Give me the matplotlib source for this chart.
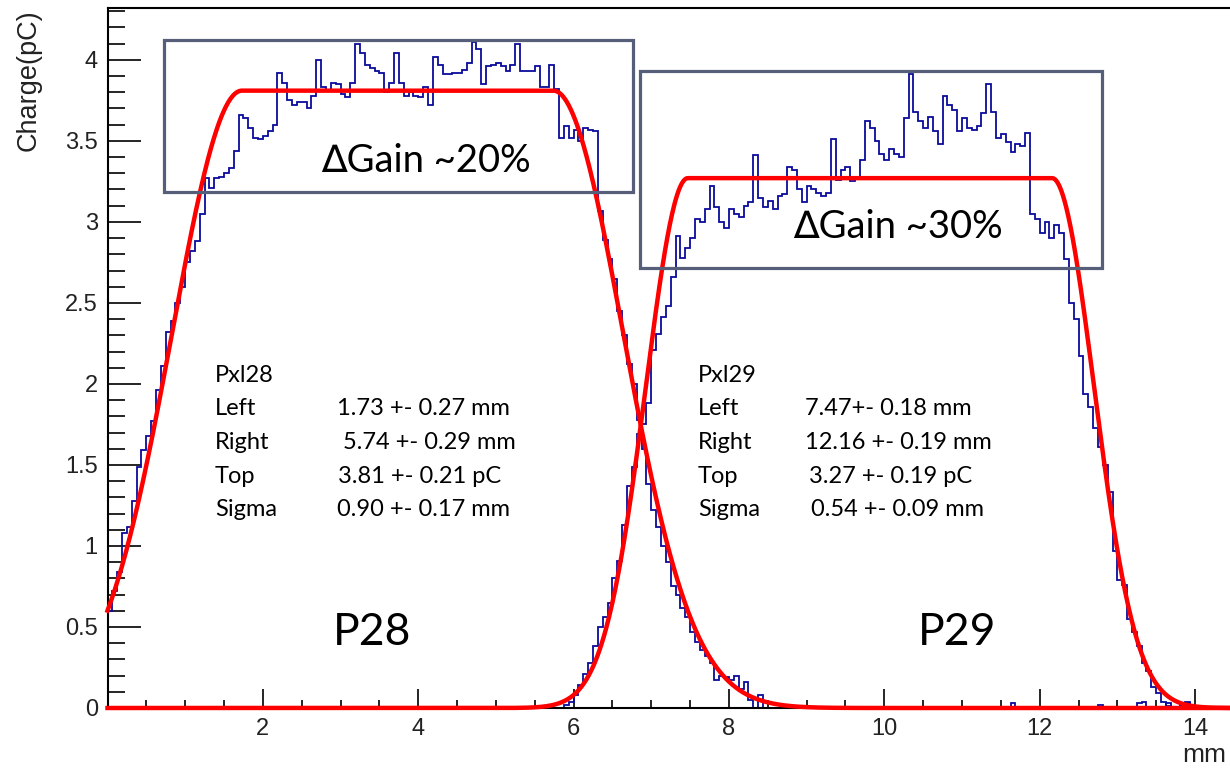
import numpy as np
import matplotlib
matplotlib.use("Agg")
import matplotlib.pyplot as plt
from matplotlib.patches import Rectangle
from matplotlib.ticker import MultipleLocator

# histogram binning (mm)
bin_w = 0.0625
n_bins = 232

# pixel 28 charge per bin, starting at bin 0
h28 = [0.60, 0.72, 0.84, 1.08, 1.12, 1.28, 1.49, 1.59, 1.68, 1.77,
       1.96, 2.11, 2.32, 2.39, 2.50, 2.60, 2.75, 2.82, 2.88, 3.05,
       3.27, 3.21, 3.27, 3.28, 3.30, 3.33, 3.44, 3.66, 3.64, 3.58,
       3.52, 3.51, 3.53, 3.56, 3.60, 3.92, 3.86, 3.75, 3.72, 3.74,
       3.74, 3.70, 3.78, 4.00, 3.83, 3.81, 3.86, 3.85, 3.79, 3.77,
       3.86, 4.10, 4.04, 3.97, 3.95, 3.93, 3.92, 3.80, 3.86, 4.04,
       3.86, 3.78, 3.80, 3.78, 3.77, 3.83, 3.72, 4.02, 3.97, 3.91,
       3.91, 3.92, 3.92, 3.94, 3.98, 4.11, 4.07, 3.85, 3.96, 3.97,
       3.98, 3.96, 3.93, 3.97, 4.10, 3.93, 3.93, 3.93, 3.96, 3.83,
       3.83, 3.97, 3.82, 3.52, 3.59, 3.52, 3.57, 3.50, 3.58, 3.57,
       3.56, 3.07, 2.89, 2.77, 2.65, 2.45, 2.30, 2.12, 2.00, 1.78,
       1.60, 1.38, 1.22, 1.12, 1.00, 0.90, 0.75, 0.70, 0.62, 0.56,
       0.47, 0.41, 0.36, 0.32, 0.28, 0.17, 0.20, 0.19, 0.17, 0.20,
       0.12, 0.16, 0.05, 0.00, 0.08, 0.00]
# isolated noise entries of pixel 28 further out
noise28_bins = [186, 204, 212, 213, 218, 221, 222]
noise28_vals = [0.03, 0.02, 0.03, 0.04, 0.03, 0.02, 0.04]

# pixel 29 charge per bin, starting at bin h29_start
h29_start = 93
h29 = [0.00, 0.02, 0.04, 0.08, 0.14, 0.21, 0.28, 0.38, 0.50, 0.56,
       0.65, 0.80, 0.91, 1.13, 1.37, 1.49, 1.69, 1.75, 1.88, 2.21,
       2.31, 2.41, 2.48, 2.66, 2.91, 2.78, 2.84, 2.90, 3.02, 3.00,
       3.08, 3.22, 3.09, 3.00, 2.96, 3.08, 3.05, 3.03, 3.10, 3.12,
       3.41, 3.15, 3.09, 3.13, 3.08, 3.16, 3.17, 3.34, 3.32, 3.20,
       3.12, 3.22, 3.20, 3.18, 3.16, 3.18, 3.51, 3.26, 3.32, 3.34,
       3.25, 3.28, 3.38, 3.62, 3.58, 3.50, 3.42, 3.38, 3.45, 3.42,
       3.40, 3.64, 3.91, 3.68, 3.62, 3.58, 3.65, 3.56, 3.48, 3.78,
       3.72, 3.69, 3.56, 3.64, 3.58, 3.57, 3.59, 3.67, 3.85, 3.68,
       3.52, 3.54, 3.49, 3.43, 3.48, 3.47, 3.55, 3.05, 3.02, 2.93,
       3.00, 2.90, 2.98, 2.93, 2.77, 2.50, 2.40, 2.17, 1.94, 1.86,
       1.73, 1.61, 1.50, 1.33, 0.97, 0.79, 0.76, 0.55, 0.47, 0.38,
       0.28, 0.23, 0.13, 0.09, 0.04, 0.01, 0.00, 0.00, 0.00, 0.03,
       0.00]

# fit results: left, right, top, sigma
fit28 = [1.73, 5.74, 3.81, 0.90]
fit29 = [7.47, 12.16, 3.27, 0.54]

stat_names = ["Left", "Right", "Top", "Sigma"]
stat28 = ["1.73 +- 0.27 mm", "5.74 +- 0.29 mm", "3.81 +- 0.21 pC", "0.90 +- 0.17 mm"]
stat29 = ["7.47+- 0.18 mm", "12.16 +- 0.19 mm", "3.27 +- 0.19 pC", "0.54 +- 0.09 mm"]


def plateau(x, left, right, top, sigma):
    # flat top with gaussian edges
    y = np.full_like(x, top)
    y = np.where(x < left, top * np.exp(-(x - left) ** 2 / (2 * sigma ** 2)), y)
    y = np.where(x > right, top * np.exp(-(x - right) ** 2 / (2 * sigma ** 2)), y)
    return y


edges = np.arange(n_bins + 1) * bin_w
c28 = np.zeros(n_bins)
c28[:len(h28)] = h28
c28[noise28_bins] = noise28_vals
c29 = np.zeros(n_bins)
c29[h29_start:h29_start + len(h29)] = h29

W, H = 1230, 768
fig = plt.figure(figsize=(W / 100, H / 100), dpi=100)
ax = fig.add_axes([107.5 / W, 1 - 708 / H, 1 - 107.5 / W, 700 / H])

blue = "#0b0b9c"
ax.stairs(c28, edges, color=blue, lw=1.3, baseline=0, zorder=2)
ax.stairs(c29, edges, color=blue, lw=1.3, baseline=0, zorder=2)

xs = np.linspace(0, 14.45, 1500)
ax.plot(xs, plateau(xs, *fit28), color="#ff0000", lw=3.2, zorder=3, clip_on=False)
ax.plot(xs, plateau(xs, *fit29), color="#ff0000", lw=3.2, zorder=3, clip_on=False)

ax.set_xlim(0, 14.45)
ax.set_ylim(0, 4.32)
ax.spines["right"].set_visible(False)
for s in ["left", "top", "bottom"]:
    ax.spines[s].set_linewidth(1.5)

ax.xaxis.set_major_locator(MultipleLocator(2))
ax.xaxis.set_minor_locator(MultipleLocator(0.5))
ax.yaxis.set_major_locator(MultipleLocator(0.5))
ax.yaxis.set_minor_locator(MultipleLocator(0.1))
ax.tick_params(axis="y", which="major", direction="in", length=24, width=1.2, pad=7)
ax.tick_params(axis="y", which="minor", direction="in", length=12.5, width=1.2)
ax.tick_params(axis="x", which="major", direction="in", length=14, width=1.2, pad=7)
ax.tick_params(axis="x", which="minor", direction="in", length=6, width=1.2)
ax.set_xticks([2, 4, 6, 8, 10, 12, 14])
ax.set_xticklabels(["2", "4", "6", "8", "10", "12", "14"])
ax.set_yticks([0, 0.5, 1, 1.5, 2, 2.5, 3, 3.5, 4])
ax.set_yticklabels(["0", "0.5", "1", "1.5", "2", "2.5", "3", "3.5", "4"])
for lab in ax.get_xticklabels() + ax.get_yticklabels():
    lab.set_fontfamily("Liberation Sans")
    lab.set_fontsize(17)
    lab.set_color("#222222")

fig.text(29 / W, 1 - 9 / H, "Charge(pC)", rotation=90, ha="center", va="top",
         family="Liberation Sans", fontsize=19.5, color="#222222")
fig.text(1226 / W, 1 - 762 / H, "mm", ha="right", va="baseline",
         family="Liberation Sans", fontsize=19, color="#222222")


def put(px, py, s, size, **kw):
    fig.text(px / W, 1 - py / H, s, fontsize=size, va="baseline",
             family=["Lato", "DejaVu Sans"], color="black", **kw)


# gain boxes
box_col = "#575e7a"
fig.add_artist(Rectangle((164 / W, 1 - 192 / H), 469 / W, 152 / H, transform=fig.transFigure,
                         fill=False, ec=box_col, lw=2.3, zorder=5))
fig.add_artist(Rectangle((640 / W, 1 - 268 / H), 462 / W, 197 / H, transform=fig.transFigure,
                         fill=False, ec=box_col, lw=2.3, zorder=5))
put(426, 172, "\u2206Gain ~20%", 27.5, ha="center")
put(898, 238, "\u2206Gain ~30%", 27.5, ha="center")

# fit parameter blocks
rows = [415, 449, 483, 516]
put(215, 382, "Pxl28", 17)
put(698, 382, "Pxl29", 17)
x28 = [337, 343, 338, 337]
x29 = [805, 805, 809, 811]
for name, v28, v29, y, a, b in zip(stat_names, stat28, stat29, rows, x28, x29):
    put(215, y, name, 17)
    put(a, y, v28, 17)
    put(698, y, name, 17)
    put(b, y, v29, 17)

put(372, 645, "P28", 32, ha="center")
put(957, 645, "P29", 32, ha="center")

fig.savefig("out.png", dpi=100)
